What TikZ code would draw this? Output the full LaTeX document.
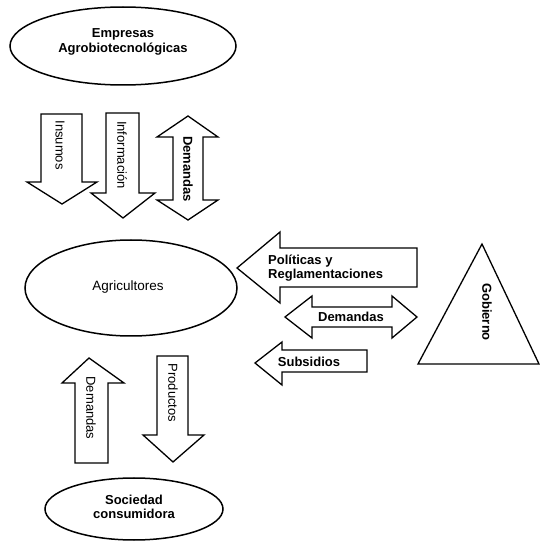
\documentclass[tikz,border=0pt]{standalone}
\usepackage{fontspec}
\setmainfont{Liberation Sans}
\usetikzlibrary{shapes.geometric}
\begin{document}
\begin{tikzpicture}[x=1pt,y=1pt,
  line join=miter,
  blk/.style={draw=black, line width=1.3pt, fill=white},
  oval/.style={ellipse, draw=black, line width=1.5pt, inner sep=0pt},
  lbl/.style={font=\fontsize{13}{14.5}\selectfont, align=center, inner sep=0pt},
  lblb/.style={lbl, font=\fontsize{13}{14.5}\selectfont\bfseries},
  vlbl/.style={lbl, rotate=-90},
  vlblb/.style={lblb, rotate=-90}]
\useasboundingbox (0,0) rectangle (540,542);

% actors
\node[oval, minimum width=226pt, minimum height=78pt] (emp) at (123,496) {};
\node[lblb] (emptext) at (123,500) {Empresas\\Agrobiotecnológicas};
\node[oval, minimum width=212pt, minimum height=96pt] (agr) at (131,254) {};
\node[lbl, font=\fontsize{13.5}{15}\selectfont] (agrtext) at (128,255) {Agricultores};
\node[oval, minimum width=178pt, minimum height=62pt] (soc) at (134,33) {};
\node[lblb] (soctext) at (134,35) {Sociedad\\consumidora};
\draw[line width=1.3pt] (418,178) coordinate (gl) -- (482,298) coordinate (gt)
  -- (539,178) coordinate (gr) -- cycle;
\node[vlblb] (gobtext) at (487,230) {Gobierno};

% flows between companies and farmers
\draw[blk] (41,428) -- (82,428) -- (82,360) -- (97,360) -- (62,338)
  -- (27,360) -- (41,360) -- cycle;
\node[vlbl] (insumos) at (60,397) {Insumos};
\draw[blk] (106,429) -- (139,429) -- (139,349) -- (155,349) -- (123,324)
  -- (91,349) -- (106,349) -- cycle;
\node[vlbl] (info) at (122,387) {Información};
\draw[blk] (188,426) -- (218,405) -- (203,405) -- (203,342) -- (218,342)
  -- (188,322) -- (157,342) -- (173,342) -- (173,405) -- (157,405) -- cycle;
\node[vlblb] (demtop) at (188,373) {Demandas};

% flows between government and farmers
\draw[blk] (237,274) -- (280,310) -- (280,294) -- (417,294) -- (417,255)
  -- (280,255) -- (280,239) -- cycle;
\node[lblb, anchor=west, align=left] (pol) at (268,274) {Políticas y\\Reglamentaciones};
\draw[blk] (285,225) -- (312,246) -- (312,235) -- (392,235) -- (392,246)
  -- (417,225) -- (392,204) -- (392,215) -- (312,215) -- (312,204) -- cycle;
\node[lblb] (demmid) at (351,225) {Demandas};
\draw[blk] (255,179) -- (282,200) -- (282,192) -- (367,192) -- (367,170)
  -- (282,170) -- (282,157) -- cycle;
\node[lblb] (subs) at (309,180) {Subsidios};

% flows between farmers and consumers
\draw[blk] (89,184) -- (124,159) -- (108,159) -- (108,79) -- (75,79)
  -- (75,159) -- (62,159) -- cycle;
\node[vlbl] (dembot) at (91,134) {Demandas};
\draw[blk] (157,186) -- (188,186) -- (188,107) -- (204,107) -- (173,80)
  -- (143,107) -- (157,107) -- cycle;
\node[vlbl] (prod) at (173,149) {Productos};
\end{tikzpicture}
\end{document}
